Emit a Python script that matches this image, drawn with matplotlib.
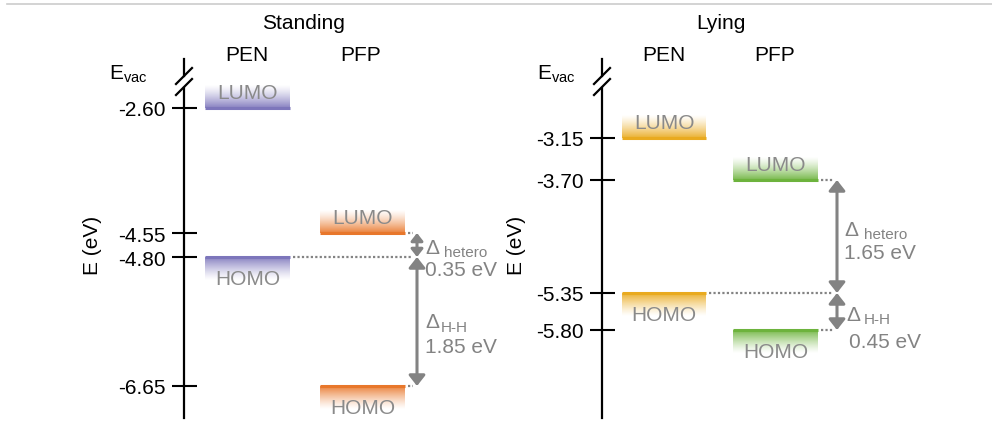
import numpy as np
import matplotlib
matplotlib.use('Agg')
import matplotlib.pyplot as plt
from matplotlib.colors import to_rgb
from matplotlib.lines import Line2D

plt.rcParams['font.family'] = ['Liberation Sans', 'DejaVu Sans']
plt.rcParams['mathtext.fontset'] = 'custom'
plt.rcParams['mathtext.rm'] = 'Liberation Sans'
plt.rcParams['mathtext.it'] = 'Liberation Sans:italic'

# ---- data ----
panel_titles = ['Standing', 'Lying']
molecules = ['PEN', 'PFP']
stand_lumo = [-2.60, -4.55]      # PEN, PFP
stand_homo = [-4.80, -6.65]
lying_lumo = [-3.15, -3.70]
lying_homo = [-5.35, -5.80]
stand_ticks = [-2.60, -4.55, -4.80, -6.65]
lying_ticks = [-3.15, -3.70, -5.35, -5.80]
stand_gaps = [0.35, 1.85]        # hetero, H-H (as labelled)
lying_gaps = [1.65, 0.45]
stand_colors = ['#7d76bb', '#e8772b']
lying_colors = ['#e9aa1f', '#6db33d']

# ---- layout (pixels) ----
W, H = 992, 431
GRAY = '#838383'
layouts = [
    dict(axis_x=184, rows=[109, 234, 258, 387], bars=[(21, 106), (136, 221)], arrow_x=233,
         evac_x=128, ylab_x=92, title_x=303, mol_x=[247, 361],
         het=dict(d=(8, -2), s=(27, -7), v=(8, -25)), hh=dict(d=(8, 0), s=(24, -5), v=(8, -25))),
    dict(axis_x=602, rows=[139, 181, 294, 331], bars=[(20, 104), (131, 216)], arrow_x=235,
         evac_x=556, ylab_x=517, title_x=721, mol_x=[664, 775],
         het=dict(d=(7, 7), s=(27, 2), v=(7, -16)), hh=dict(d=(9, -3), s=(27, -8), v=(12, -30))),
]
panels = [(stand_lumo, stand_homo, stand_ticks, stand_gaps, stand_colors),
          (lying_lumo, lying_homo, lying_ticks, lying_gaps, lying_colors)]


def make_scale(levels, rows):
    # schematic (not-to-scale) energy axis: piecewise linear through the tick anchors
    order = np.argsort(levels)
    e = np.asarray(levels, float)[order]
    p = -np.asarray(rows, float)[order]
    s0 = (p[1] - p[0]) / (e[1] - e[0])
    s1 = (p[-1] - p[-2]) / (e[-1] - e[-2])

    def fwd(x):
        x = np.asarray(x, float)
        y = np.interp(x, e, p)
        y = np.where(x < e[0], p[0] + (x - e[0]) * s0, y)
        return np.where(x > e[-1], p[-1] + (x - e[-1]) * s1, y)

    def inv(y):
        y = np.asarray(y, float)
        x = np.interp(y, p, e)
        x = np.where(y < p[0], e[0] + (y - p[0]) / s0, x)
        return np.where(y > p[-1], e[-1] + (y - p[-1]) / s1, x)
    return fwd, inv


def draw_level(ax, x0, x1, energy, color, up, label, fwd, inv):
    r = -float(fwd(energy))
    rgb = np.array(to_rgb(color))
    n = 22
    for k in range(n - 1, -1, -1):
        a = 0.85 * (1 - k / n) ** 1.3
        c = tuple(rgb * a + (1 - a))
        r0, r1 = (r - k - 1.6, r - k) if up else (r + k, r + k + 1.6)
        ax.fill_between([x0, x1], float(inv(-r0)), float(inv(-r1)), color=c, lw=0)
    ax.plot([x0, x1], [energy, energy], color=color, lw=2.2, solid_capstyle='butt')
    ax.annotate(label, (0.5 * (x0 + x1), energy), xytext=(0, 10 if up else -27),
                textcoords='offset pixels', ha='center', va='baseline',
                color='#8a8a8a', fontsize=15)


def double_arrow(ax, x, e_top, e_bot, fwd):
    span = abs(float(fwd(e_top)) - float(fwd(e_bot)))
    ax.annotate('', xy=(x, e_top), xytext=(x, e_bot),
                arrowprops=dict(arrowstyle='<|-|>,head_length=0.42,head_width=0.33',
                                color=GRAY, lw=2.2, mutation_scale=min(15, 0.45 * span),
                                shrinkA=0, shrinkB=0))


fig = plt.figure(figsize=(W / 100, H / 100), dpi=100)
fig.add_artist(Line2D([7 / W, 1], [1 - 5 / H] * 2, color='#cccccc', lw=1.2))

for title, lay, (lumo, homo, ticks, gaps, colors) in zip(panel_titles, layouts, panels):
    fwd, inv = make_scale(ticks, lay['rows'])
    E = lambda row: float(inv(-row))
    ax = fig.add_axes([lay['axis_x'] / W, 0, 300 / W, 1])
    ax.set_yscale('function', functions=(fwd, inv))
    ax.set_xlim(0, 300)
    ax.set_ylim(E(H), E(0))
    ax.patch.set_visible(False)
    for s in ['top', 'right', 'bottom']:
        ax.spines[s].set_visible(False)
    ax.spines['left'].set_linewidth(1.6)
    ax.spines['left'].set_bounds(E(419), E(89))
    ax.set_xticks([])
    ax.set_yticks(ticks, labels=[f'{t:.2f}' for t in ticks])
    ax.minorticks_off()
    ax.tick_params(axis='y', direction='inout', length=18, width=1.5, labelsize=15, pad=4)

    # axis break towards E_vac
    ax.plot([0, 0], [E(60), E(77)], color='k', lw=1.6, clip_on=False)
    for cy in (77, 88):
        ax.plot([-8, 8], [E(cy + 8), E(cy - 8)], color='k', lw=1.6, clip_on=False)

    # levels
    for i, mol in enumerate(molecules):
        x0, x1 = lay['bars'][i]
        draw_level(ax, x0, x1, lumo[i], colors[i], True, 'LUMO', fwd, inv)
        draw_level(ax, x0, x1, homo[i], colors[i], False, 'HOMO', fwd, inv)

    ax_ = lay['arrow_x']
    dot = dict(color=GRAY, lw=1.6, linestyle=(0, (1, 1)))
    ax.plot([lay['bars'][0][1] + 3, ax_ - 4], [homo[0]] * 2, **dot)
    ax.plot([lay['bars'][1][1] + 3, ax_ - 4], [lumo[1]] * 2, **dot)
    ax.plot([lay['bars'][1][1] + 3, ax_ - 4], [homo[1]] * 2, **dot)

    double_arrow(ax, ax_, lumo[1], homo[0], fwd)
    double_arrow(ax, ax_, homo[0], homo[1], fwd)

    for key, sub, (e1, e2), g in zip(['het', 'hh'], ['hetero', 'H-H'],
                                     [(lumo[1], homo[0]), (homo[0], homo[1])], gaps):
        mid = 0.5 * (e1 + e2)
        o = lay[key]
        ax.annotate('Δ', (ax_, mid), xytext=o['d'], textcoords='offset pixels',
                    ha='left', va='center', color=GRAY, fontsize=15)
        ax.annotate(sub, (ax_, mid), xytext=o['s'], textcoords='offset pixels',
                    ha='left', va='center', color=GRAY, fontsize=11)
        ax.annotate(f'{g:.2f} eV', (ax_, mid), xytext=o['v'], textcoords='offset pixels',
                    ha='left', va='center', color=GRAY, fontsize=15)

    # labels
    fig.text(lay['title_x'] / W, 1 - 29 / H, title, ha='center', va='baseline', fontsize=15)
    for mx, mol in zip(lay['mol_x'], molecules):
        fig.text(mx / W, 1 - 61 / H, mol, ha='center', va='baseline', fontsize=15)
    fig.text(lay['evac_x'] / W, 1 - 80 / H, r'E$_{\mathrm{vac}}$', ha='center', va='baseline', fontsize=15)
    fig.text(lay['ylab_x'] / W, 1 - 245 / H, 'E (eV)', rotation=90, ha='center', va='center', fontsize=15)

fig.savefig('out.png', dpi=100)
